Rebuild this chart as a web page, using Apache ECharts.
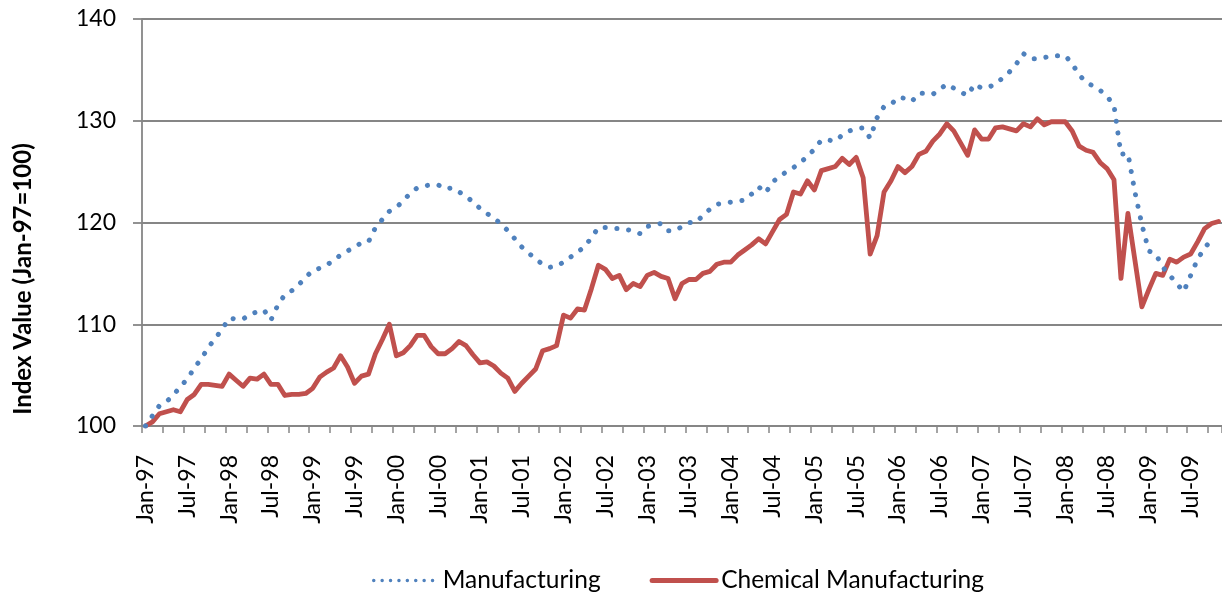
<!DOCTYPE html>
<html>
<head>
<meta charset="utf-8">
<script src="https://cdn.jsdelivr.net/npm/echarts@6/dist/echarts.min.js"></script>
<style>
  html, body { margin: 0; padding: 0; background: #ffffff; }
  #chart { width: 1222px; height: 594px; }
</style>
</head>
<body>
<div id="chart"></div>
<script>
// Monthly index values, Jan-97 = 100
const monthNames = ['Jan', 'Feb', 'Mar', 'Apr', 'May', 'Jun', 'Jul', 'Aug', 'Sep', 'Oct', 'Nov', 'Dec'];
const firstYear = 1997;
const monthCount = 155; // Jan-97 .. Nov-09

const manufacturing = [
  100.0, 101.0, 102.0, 102.4, 103.0, 103.9, 104.6, 105.7, 106.6, 107.7, 108.6, 109.5,
  110.6, 110.5, 110.5, 111.0, 111.2, 111.4, 110.4, 111.9, 112.9, 113.3, 113.9, 114.6,
  115.3, 115.5, 115.8, 116.3, 116.8, 117.2, 117.6, 118.0, 118.1, 119.5, 120.3, 121.1,
  121.5, 122.1, 122.9, 123.4, 123.6, 123.7, 123.7, 123.3, 123.4, 123.0, 122.6, 122.0,
  121.4, 120.9, 120.4, 119.9, 119.2, 118.4, 117.6, 117.0, 116.4, 115.9, 115.6, 115.7,
  116.1, 116.6, 117.1, 117.6, 118.5, 119.5, 119.5, 119.4, 119.4, 119.3, 119.2, 118.9,
  119.6, 119.8, 119.9, 119.2, 119.2, 119.6, 120.0, 120.0, 120.7, 121.3, 121.8, 121.9,
  122.0, 122.1, 122.2, 122.8, 123.5, 122.9, 124.0, 124.5, 125.0, 125.4, 125.9, 126.5,
  127.2, 128.1, 128.1, 128.0, 128.6, 129.0, 129.2, 129.3, 128.3, 130.3, 131.4, 131.6,
  132.3, 132.2, 131.9, 132.7, 132.7, 132.6, 133.1, 133.6, 133.2, 132.8, 132.5, 133.6,
  133.2, 133.3, 133.6, 134.2, 134.8, 135.6, 136.6, 136.1, 136.1, 136.2, 136.4, 136.4,
  136.4, 135.6, 134.5, 133.8, 133.4, 133.0, 132.4, 131.5, 126.7, 126.8, 123.0, 119.8,
  117.2, 116.9, 115.6, 114.8, 114.0, 113.2, 114.8, 116.4, 117.5, 118.3
];

const chemicalManufacturing = [
  100.0, 100.4, 101.2, 101.4, 101.6, 101.4, 102.6, 103.1, 104.1, 104.1, 104.0, 103.9,
  105.1, 104.5, 103.9, 104.7, 104.6, 105.1, 104.1, 104.1, 103.0, 103.1, 103.1, 103.2,
  103.7, 104.8, 105.3, 105.7, 106.9, 105.8, 104.2, 104.9, 105.1, 107.1, 108.5, 110.0,
  106.9, 107.2, 107.9, 108.9, 108.9, 107.8, 107.1, 107.1, 107.6, 108.3, 107.9, 107.0,
  106.2, 106.3, 105.9, 105.2, 104.7, 103.4, 104.2, 104.9, 105.6, 107.4, 107.6, 107.9,
  110.9, 110.6, 111.5, 111.4, 113.5, 115.8, 115.4, 114.5, 114.8, 113.4, 114.0, 113.7,
  114.8, 115.1, 114.7, 114.5, 112.5, 114.0, 114.4, 114.4, 115.0, 115.2, 115.9, 116.1,
  116.1, 116.8, 117.3, 117.8, 118.4, 117.9, 119.1, 120.3, 120.8, 123.0, 122.8, 124.1,
  123.2, 125.1, 125.3, 125.5, 126.3, 125.7, 126.4, 124.4, 116.9, 118.7, 123.0, 124.1,
  125.5, 124.9, 125.5, 126.7, 127.0, 128.0, 128.7, 129.7, 129.0, 127.8, 126.6, 129.1,
  128.2, 128.2, 129.3, 129.4, 129.2, 129.0, 129.7, 129.4, 130.2, 129.6, 129.9, 129.9,
  129.9, 129.0, 127.5, 127.1, 126.9, 125.9, 125.3, 124.2, 114.5, 120.9, 116.3, 111.7,
  113.4, 115.0, 114.8, 116.4, 116.1, 116.6, 116.9, 118.1, 119.4, 119.9, 120.1
];

const seriesNames = ['Manufacturing', 'Chemical Manufacturing'];
const yTicks = { min: 100, max: 140, step: 10 };
const yAxisTitle = 'Index Value (Jan-97=100)';

// Category labels such as "Jan-97"
const categories = [];
for (let i = 0; i < monthCount; i++) {
  const yy = (firstYear + Math.floor(i / 12)) % 100;
  categories.push(monthNames[i % 12] + '-' + String(yy).padStart(2, '0'));
}

const axisGray = '#868686';
const blue = '#4F81BD';
const red = '#C0504D';
const font = 'Lato, "Open Sans", sans-serif';

const chart = echarts.init(document.getElementById('chart'), null, { renderer: 'canvas' });

chart.setOption({
  animation: false,
  backgroundColor: '#ffffff',
  grid: { left: 142, top: 19, width: monthCount * 7.0, height: 407, containLabel: false },
  xAxis: {
    type: 'category',
    data: categories,
    boundaryGap: true,
    axisLine: { show: true, lineStyle: { color: axisGray, width: 1.8 } },
    axisTick: { show: true, interval: 2, length: 7, inside: false, lineStyle: { color: axisGray, width: 1.5 } },
    axisLabel: { interval: 5, rotate: 90, margin: 29, color: '#000000', fontFamily: font, fontSize: 23 },
    splitLine: { show: false }
  },
  yAxis: {
    type: 'value',
    min: yTicks.min,
    max: yTicks.max,
    interval: yTicks.step,
    axisLine: { show: true, lineStyle: { color: axisGray, width: 1.8 } },
    axisTick: { show: true, length: 9, lineStyle: { color: axisGray, width: 1.8 } },
    axisLabel: { margin: 26, color: '#000000', fontFamily: font, fontSize: 23 },
    splitLine: { show: true, lineStyle: { color: axisGray, width: 1.8 } }
  },
  legend: {
    left: 367,
    top: 563,
    itemWidth: 64,
    itemHeight: 14,
    itemGap: 49,
    textStyle: { color: '#000000', fontFamily: font, fontSize: 24.5 },
    data: [
      {
        name: seriesNames[0],
        itemStyle: { opacity: 0 },
        lineStyle: { width: 3.4, type: [0.1, 8.3], cap: 'round', color: blue }
      },
      {
        name: seriesNames[1],
        itemStyle: { opacity: 0 },
        lineStyle: { width: 5, type: 'solid', color: red }
      }
    ]
  },
  graphic: [
    {
      type: 'text',
      x: 23,
      y: 279,
      rotation: Math.PI / 2,
      style: {
        text: yAxisTitle,
        fill: '#000000',
        font: 'bold 24px ' + font,
        align: 'center',
        verticalAlign: 'middle'
      }
    }
  ],
  series: [
    {
      name: seriesNames[0],
      type: 'line',
      data: manufacturing,
      symbol: 'none',
      itemStyle: { color: blue },
      lineStyle: { color: blue, width: 5, type: [0.1, 11.7], cap: 'round', join: 'round' },
      z: 3
    },
    {
      name: seriesNames[1],
      type: 'line',
      data: chemicalManufacturing,
      symbol: 'none',
      itemStyle: { color: red },
      lineStyle: { color: red, width: 4.8, join: 'round', cap: 'round' },
      z: 2
    }
  ]
});
</script>
</body>
</html>
